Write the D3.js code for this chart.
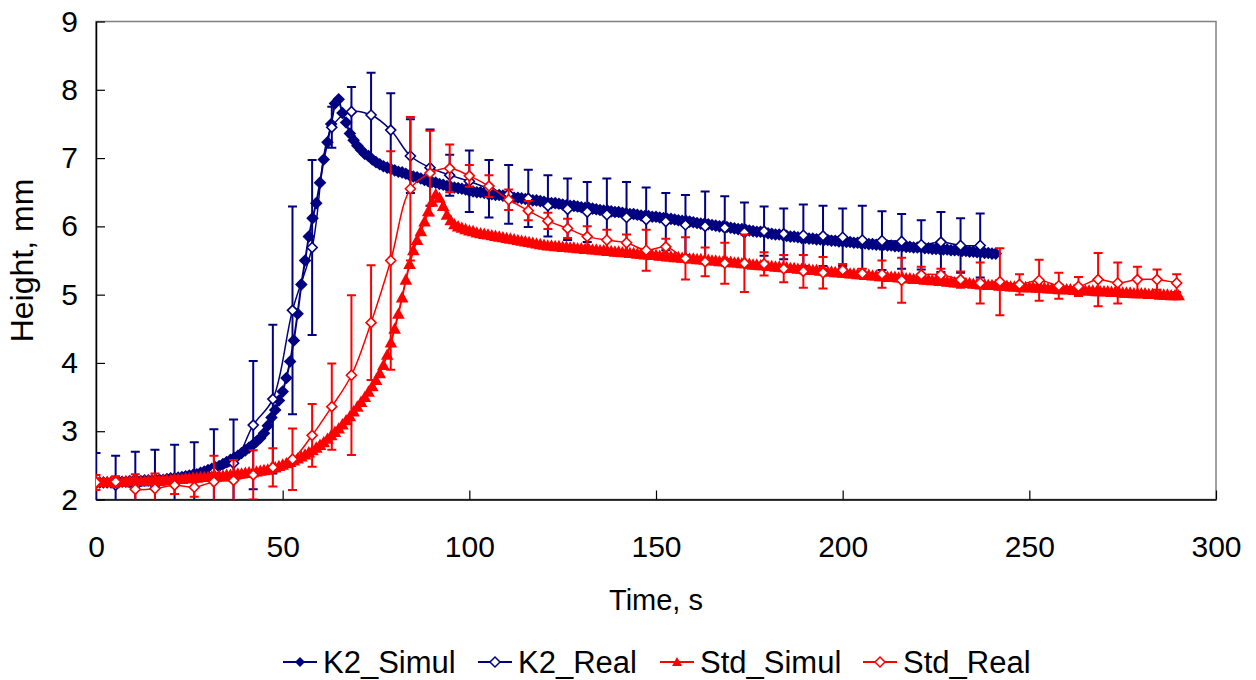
<!DOCTYPE html>
<html>
<head>
<meta charset="utf-8">
<script src="https://cdn.jsdelivr.net/npm/d3@7"></script>
<style>
  body { margin: 0; background: #fff; }
  text { font-family: "Liberation Sans", Arial, sans-serif; }
</style>
</head>
<body>
<script>
const width = 1256;
const height = 680;
const margin = { top: 21.5, right: 40, bottom: 180.5, left: 96 };
const navy = '#000080';
const red = '#FF0000';

// simulation output, one value per second starting at t = 0
const k2Simul = [
  2.25, 2.25, 2.25, 2.25, 2.25, 2.26, 2.26, 2.26, 2.26, 2.27,
  2.27, 2.27, 2.27, 2.28, 2.28, 2.28, 2.29, 2.29, 2.29, 2.30,
  2.31, 2.31, 2.32, 2.33, 2.34, 2.35, 2.36, 2.37, 2.39, 2.41,
  2.43, 2.45, 2.47, 2.49, 2.52, 2.55, 2.58, 2.61, 2.64, 2.68,
  2.72, 2.76, 2.80, 2.85, 2.90, 2.97, 3.08, 3.20, 3.31, 3.45,
  3.58, 3.78, 4.02, 4.33, 4.72, 5.15, 5.50, 5.85, 6.12, 6.34,
  6.64, 6.98, 7.23, 7.50, 7.80, 7.86, 7.66, 7.52, 7.36, 7.26,
  7.18, 7.12, 7.06, 7.03, 6.98, 6.94, 6.91, 6.88, 6.86, 6.84,
  6.82, 6.80, 6.79, 6.77, 6.75, 6.73, 6.72, 6.70, 6.68, 6.66,
  6.65, 6.64, 6.62, 6.61, 6.59, 6.58, 6.57, 6.56, 6.55, 6.54,
  6.52, 6.51, 6.50, 6.50, 6.49, 6.48, 6.47, 6.46, 6.46, 6.45,
  6.44, 6.43, 6.42, 6.42, 6.41, 6.40, 6.39, 6.38, 6.38, 6.37,
  6.36, 6.35, 6.34, 6.34, 6.33, 6.32, 6.31, 6.30, 6.30, 6.29,
  6.28, 6.27, 6.27, 6.26, 6.25, 6.24, 6.23, 6.23, 6.22, 6.21,
  6.21, 6.20, 6.19, 6.18, 6.18, 6.17, 6.16, 6.15, 6.15, 6.14,
  6.14, 6.13, 6.12, 6.11, 6.11, 6.10, 6.09, 6.08, 6.08, 6.07,
  6.06, 6.05, 6.04, 6.04, 6.03, 6.02, 6.01, 6.00, 6.00, 5.99,
  5.98, 5.97, 5.96, 5.96, 5.95, 5.94, 5.93, 5.92, 5.92, 5.91,
  5.90, 5.89, 5.88, 5.88, 5.87, 5.86, 5.85, 5.85, 5.84, 5.83,
  5.83, 5.82, 5.82, 5.81, 5.81, 5.80, 5.80, 5.79, 5.79, 5.78,
  5.78, 5.77, 5.77, 5.76, 5.76, 5.75, 5.75, 5.74, 5.74, 5.73,
  5.73, 5.73, 5.72, 5.72, 5.71, 5.71, 5.71, 5.70, 5.70, 5.69,
  5.69, 5.69, 5.68, 5.68, 5.67, 5.67, 5.67, 5.66, 5.66, 5.65,
  5.65, 5.65, 5.64, 5.64, 5.63, 5.63, 5.62, 5.62, 5.61, 5.61,
  5.60, 5.60
];

const stdSimul = [
  2.26, 2.26, 2.26, 2.26, 2.26, 2.26, 2.26, 2.26, 2.27, 2.27,
  2.27, 2.27, 2.27, 2.27, 2.28, 2.28, 2.28, 2.28, 2.29, 2.29,
  2.29, 2.30, 2.30, 2.30, 2.31, 2.31, 2.32, 2.32, 2.33, 2.33,
  2.33, 2.34, 2.34, 2.35, 2.35, 2.36, 2.36, 2.37, 2.38, 2.38,
  2.39, 2.40, 2.40, 2.41, 2.42, 2.43, 2.44, 2.46, 2.47, 2.49,
  2.51, 2.53, 2.55, 2.57, 2.60, 2.63, 2.66, 2.69, 2.72, 2.76,
  2.80, 2.84, 2.89, 2.94, 2.99, 3.04, 3.10, 3.16, 3.22, 3.29,
  3.36, 3.43, 3.50, 3.58, 3.66, 3.75, 3.85, 3.97, 4.12, 4.30,
  4.50, 4.72, 4.96, 5.22, 5.45, 5.65, 5.80, 5.93, 6.07, 6.22,
  6.36, 6.47, 6.42, 6.30, 6.17, 6.09, 6.03, 6.00, 5.98, 5.96,
  5.94, 5.93, 5.91, 5.90, 5.89, 5.88, 5.87, 5.86, 5.85, 5.84,
  5.83, 5.82, 5.81, 5.80, 5.79, 5.78, 5.77, 5.76, 5.75, 5.74,
  5.73, 5.72, 5.72, 5.71, 5.71, 5.70, 5.70, 5.69, 5.69, 5.68,
  5.68, 5.67, 5.67, 5.66, 5.66, 5.65, 5.65, 5.64, 5.64, 5.63,
  5.63, 5.62, 5.62, 5.61, 5.61, 5.60, 5.60, 5.59, 5.59, 5.58,
  5.58, 5.57, 5.57, 5.56, 5.56, 5.55, 5.55, 5.54, 5.54, 5.53,
  5.53, 5.52, 5.52, 5.51, 5.51, 5.50, 5.50, 5.49, 5.49, 5.48,
  5.48, 5.47, 5.47, 5.46, 5.46, 5.45, 5.44, 5.44, 5.43, 5.43,
  5.42, 5.42, 5.41, 5.41, 5.40, 5.40, 5.39, 5.39, 5.38, 5.38,
  5.37, 5.37, 5.36, 5.36, 5.35, 5.35, 5.34, 5.34, 5.33, 5.33,
  5.32, 5.32, 5.31, 5.31, 5.30, 5.30, 5.29, 5.29, 5.28, 5.28,
  5.27, 5.27, 5.26, 5.26, 5.26, 5.25, 5.25, 5.24, 5.24, 5.23,
  5.23, 5.23, 5.22, 5.22, 5.21, 5.21, 5.20, 5.20, 5.19, 5.19,
  5.18, 5.18, 5.18, 5.17, 5.17, 5.16, 5.16, 5.15, 5.15, 5.14,
  5.14, 5.14, 5.13, 5.13, 5.13, 5.12, 5.12, 5.12, 5.11, 5.11,
  5.11, 5.11, 5.10, 5.10, 5.10, 5.09, 5.09, 5.09, 5.08, 5.08,
  5.08, 5.08, 5.07, 5.07, 5.07, 5.06, 5.06, 5.06, 5.05, 5.05,
  5.05, 5.05, 5.04, 5.04, 5.04, 5.03, 5.03, 5.03, 5.02, 5.02,
  5.02, 5.02, 5.01, 5.01, 5.01, 5.00, 5.00, 5.00, 4.99, 4.99,
  4.99
];

// measured runs: sample times (s), mean height (mm), standard deviation
const realTimes = [
  0, 5.26, 10.53, 15.79, 21.05, 26.32, 31.58, 36.84, 42.11, 47.37,
  52.63, 57.89, 63.16, 68.42, 73.68, 78.95, 84.21, 89.47, 94.74, 100.0,
  105.26, 110.53, 115.79, 121.05, 126.32, 131.58, 136.84, 142.11, 147.37, 152.63,
  157.89, 163.16, 168.42, 173.68, 178.95, 184.21, 189.47, 194.74, 200.0, 205.26,
  210.53, 215.79, 221.05, 226.32, 231.58, 236.84, 242.11, 247.37, 252.63, 257.89,
  263.16, 268.42, 273.68, 278.95, 284.21, 289.47
];

const k2Real = [
  2.24, 2.21, 2.20, 2.21, 2.23, 2.29, 2.41, 2.53, 3.09, 3.47,
  4.77, 5.69, 7.45, 7.68, 7.63, 7.41, 7.03, 6.86, 6.75, 6.66,
  6.55, 6.47, 6.41, 6.30, 6.25, 6.21, 6.17, 6.13, 6.10, 6.07,
  6.02, 6.00, 5.98, 5.91, 5.93, 5.89, 5.87, 5.86, 5.84, 5.80,
  5.79, 5.78, 5.73, 5.77, 5.72, 5.72
];
const k2RealSd = [
  0.44, 0.43, 0.50, 0.52, 0.57, 0.55, 0.62, 0.64, 0.94, 1.09,
  1.52, 1.28, 0.30, 0.36, 0.62, 0.54, 0.54, 0.56, 0.30, 0.45,
  0.42, 0.43, 0.42, 0.45, 0.45, 0.44, 0.53, 0.52, 0.47, 0.42,
  0.44, 0.51, 0.46, 0.44, 0.36, 0.37, 0.45, 0.44, 0.42, 0.50,
  0.43, 0.40, 0.36, 0.44, 0.40, 0.47
];

const stdReal = [
  2.25, 2.26, 2.15, 2.16, 2.21, 2.18, 2.26, 2.28, 2.36, 2.47,
  2.59, 2.94, 3.36, 3.82, 4.59, 5.50, 6.55, 6.78, 6.85, 6.74,
  6.59, 6.39, 6.23, 6.08, 5.97, 5.85, 5.80, 5.76, 5.65, 5.70,
  5.53, 5.48, 5.46, 5.46, 5.45, 5.38, 5.34, 5.32, 5.36, 5.31,
  5.30, 5.21, 5.29, 5.29, 5.22, 5.17, 5.19, 5.15, 5.21, 5.13,
  5.12, 5.22, 5.17, 5.22, 5.22, 5.17
];
const stdRealSd = [
  0.11, 0.08, 0.22, 0.22, 0.13, 0.14, 0.38, 0.30, 0.36, 0.28,
  0.45, 0.46, 0.63, 1.17, 0.84, 1.60, 1.05, 0.62, 0.35, 0.16,
  0.16, 0.15, 0.14, 0.12, 0.14, 0.15, 0.15, 0.12, 0.30, 0.12,
  0.31, 0.21, 0.30, 0.42, 0.17, 0.20, 0.24, 0.23, 0.09, 0.07,
  0.20, 0.33, 0.12, 0.09, 0.12, 0.30, 0.49, 0.15, 0.30, 0.19,
  0.14, 0.39, 0.30, 0.19, 0.15, 0.13
];

const xTicks = [0, 50, 100, 150, 200, 250, 300];
const yTicks = [2, 3, 4, 5, 6, 7, 8, 9];
const seriesNames = ['K2_Simul', 'K2_Real', 'Std_Simul', 'Std_Real'];

const svg = d3.select('body')
    .append('svg')
    .attr('width', width)
    .attr('height', height);

const xScale = d3.scaleLinear()
    .domain([0, 300])
    .range([margin.left, width - margin.right]);

const yScale = d3.scaleLinear()
    .domain([2, 9])
    .range([height - margin.bottom, margin.top]);

const diamond = r => `M0,${-r}L${r},0L0,${r}L${-r},0Z`;
const triangle = r => `M0,${-r}L${r},${r * 0.8}L${-r},${r * 0.8}Z`;

// plot area frame (grey), axes drawn over it in black
svg.append('rect')
    .attr('x', xScale(0))
    .attr('y', yScale(9))
    .attr('width', xScale(300) - xScale(0))
    .attr('height', yScale(2) - yScale(9))
    .attr('fill', 'none')
    .attr('stroke', '#808080')
    .attr('stroke-width', 1.5);

svg.append('defs').append('clipPath')
    .attr('id', 'plot-clip')
    .append('rect')
    .attr('x', xScale(0))
    .attr('y', yScale(9))
    .attr('width', xScale(300) - xScale(0))
    .attr('height', yScale(2) - yScale(9));

const xAxis = d3.axisBottom(xScale)
    .tickValues(xTicks)
    .tickSizeInner(-9)
    .tickSizeOuter(0)
    .tickPadding(36);

const yAxis = d3.axisLeft(yScale)
    .tickValues(yTicks)
    .tickFormat(d3.format('d'))
    .tickSizeInner(-9)
    .tickSizeOuter(0)
    .tickPadding(18);

const gx = svg.append('g')
    .attr('transform', `translate(0, ${yScale(2)})`)
    .call(xAxis);

const gy = svg.append('g')
    .attr('transform', `translate(${xScale(0)}, 0)`)
    .call(yAxis);

[gx, gy].forEach(g => {
    g.select('.domain').attr('stroke', '#000').attr('stroke-width', 1.5);
    g.selectAll('.tick line').attr('stroke', '#000').attr('stroke-width', 1.2);
    g.selectAll('.tick text')
        .attr('font-size', 30)
        .attr('fill', '#000')
        .style('font-family', '"Liberation Sans", Arial, sans-serif');
});

svg.append('text')
    .attr('x', (xScale(0) + xScale(300)) / 2)
    .attr('y', 610)
    .attr('text-anchor', 'middle')
    .attr('font-size', 29)
    .text('Time, s');

svg.append('text')
    .attr('transform', `translate(33, ${(yScale(2) + yScale(9)) / 2}) rotate(-90)`)
    .attr('text-anchor', 'middle')
    .attr('font-size', 32)
    .text('Height, mm');

const plot = svg.append('g').attr('clip-path', 'url(#plot-clip)');

function drawSimul(values, color, shape) {
    const pts = values.map((v, i) => ({ t: i, v: v }));
    plot.append('path')
        .datum(pts)
        .attr('fill', 'none')
        .attr('stroke', color)
        .attr('stroke-width', 2)
        .attr('d', d3.line().x(d => xScale(d.t)).y(d => yScale(d.v)));
    plot.append('g')
        .selectAll('path')
        .data(pts)
        .enter()
        .append('path')
        .attr('transform', d => `translate(${xScale(d.t)}, ${yScale(d.v)})`)
        .attr('d', shape)
        .attr('fill', color);
}

function drawReal(values, sds, color) {
    const pts = values.map((v, i) => ({ t: realTimes[i], v: v, sd: sds[i] }));
    const bars = plot.append('g')
        .attr('stroke', color)
        .attr('stroke-width', 2);
    bars.selectAll('line.bar')
        .data(pts)
        .enter()
        .append('line')
        .attr('class', 'bar')
        .attr('x1', d => xScale(d.t))
        .attr('x2', d => xScale(d.t))
        .attr('y1', d => yScale(d.v + d.sd))
        .attr('y2', d => yScale(d.v - d.sd));
    [1, -1].forEach(s => {
        bars.selectAll('line.cap' + s)
            .data(pts)
            .enter()
            .append('line')
            .attr('x1', d => xScale(d.t) - 4.5)
            .attr('x2', d => xScale(d.t) + 4.5)
            .attr('y1', d => yScale(d.v + s * d.sd))
            .attr('y2', d => yScale(d.v + s * d.sd));
    });
    plot.append('path')
        .datum(pts)
        .attr('fill', 'none')
        .attr('stroke', color)
        .attr('stroke-width', 1.5)
        .attr('d', d3.line().curve(d3.curveCatmullRom.alpha(0.5))
            .x(d => xScale(d.t)).y(d => yScale(d.v)));
    plot.append('g')
        .selectAll('path')
        .data(pts)
        .enter()
        .append('path')
        .attr('transform', d => `translate(${xScale(d.t)}, ${yScale(d.v)})`)
        .attr('d', diamond(5))
        .attr('fill', '#fff')
        .attr('stroke', color)
        .attr('stroke-width', 1.6);
}

drawSimul(k2Simul, navy, diamond(6.3));
drawReal(k2Real, k2RealSd, navy);
drawSimul(stdSimul, red, triangle(6.3));
drawReal(stdReal, stdRealSd, red);

// legend
const legendX = [300, 495, 677, 880];
const legendColor = [navy, navy, red, red];
const legend = svg.append('g')
    .selectAll('g')
    .data(seriesNames)
    .enter()
    .append('g')
    .attr('transform', (d, i) => `translate(${legendX[i]}, 662)`);

legend.append('line')
    .attr('x1', -17)
    .attr('x2', 17)
    .attr('stroke', (d, i) => legendColor[i])
    .attr('stroke-width', 2);

legend.append('path')
    .attr('d', (d, i) => i === 2 ? triangle(5) : diamond(5))
    .attr('fill', (d, i) => i === 1 || i === 3 ? '#fff' : legendColor[i])
    .attr('stroke', (d, i) => legendColor[i])
    .attr('stroke-width', (d, i) => i === 1 || i === 3 ? 1.5 : 0);

legend.append('text')
    .attr('x', 23)
    .attr('y', 11)
    .attr('font-size', 31)
    .text(d => d);
</script>
</body>
</html>
